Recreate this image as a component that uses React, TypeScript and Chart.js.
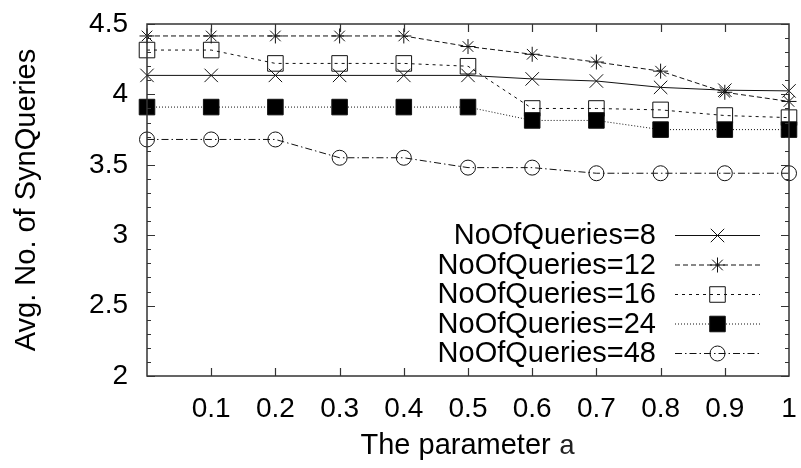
import React, { useEffect, useRef } from 'react';
import { Chart, registerables } from 'chart.js';
import { drawPoint } from 'chart.js/helpers';

Chart.register(...registerables);

const xValues = [0, 0.1, 0.2, 0.3, 0.4, 0.5, 0.6, 0.7, 0.8, 0.9, 1];
const seriesLabels = ['NoOfQueries=8', 'NoOfQueries=12', 'NoOfQueries=16', 'NoOfQueries=24', 'NoOfQueries=48'];
const q8 = [4.135, 4.135, 4.135, 4.135, 4.135, 4.135, 4.11, 4.095, 4.05, 4.03, 4.025];
const q12 = [4.415, 4.415, 4.415, 4.415, 4.415, 4.34, 4.285, 4.23, 4.165, 4.015, 3.95];
const q16 = [4.315, 4.315, 4.22, 4.22, 4.22, 4.2, 3.9, 3.9, 3.89, 3.85, 3.835];
const q24 = [3.91, 3.91, 3.91, 3.91, 3.91, 3.91, 3.815, 3.815, 3.75, 3.75, 3.75];
const q48 = [3.68, 3.68, 3.68, 3.55, 3.55, 3.48, 3.48, 3.44, 3.44, 3.44, 3.44];
const xMajorTicks = [0.1, 0.2, 0.3, 0.4, 0.5, 0.6, 0.7, 0.8, 0.9];
const yMajorTicks = [2, 2.5, 3, 3.5, 4, 4.5];
const yMinorTicks = [2.1, 2.2, 2.3, 2.4, 2.6, 2.7, 2.8, 2.9, 3.1, 3.2, 3.3, 3.4, 3.6, 3.7, 3.8, 3.9, 4.1, 4.2, 4.3, 4.4];
const xTitle = 'The parameter ';
const xTitleVar = 'a';
const yTitle = 'Avg. No. of SynQueries';

const FONT = '"Liberation Sans", Arial, Helvetica, sans-serif';
const MONO = '"Liberation Mono", "DejaVu Sans Mono", monospace';
const INK = '#111';

const seriesValues = [q8, q12, q16, q24, q48];
const styles = [
  { dash: [], point: 'crossRot', radius: 9.5, fill: 'rgba(0,0,0,0)' },
  { dash: [5, 3], point: 'star', radius: 7.5, fill: 'rgba(0,0,0,0)' },
  { dash: [3, 4], point: 'rect', radius: 11, fill: 'rgba(0,0,0,0)' },
  { dash: [1, 2], point: 'rect', radius: 11, fill: '#000' },
  { dash: [7, 3, 1.5, 3], point: 'circle', radius: 7.5, fill: 'rgba(0,0,0,0)' },
];

const framePlugin = {
  id: 'frame',
  afterDatasetsDraw(chart: any) {
    const { ctx, chartArea: a, scales } = chart;
    const x = scales.x;
    const y = scales.y;
    ctx.save();
    ctx.strokeStyle = '#333';
    ctx.lineWidth = 1.5;
    ctx.setLineDash([]);
    ctx.strokeRect(a.left, a.top, a.right - a.left, a.bottom - a.top);
    ctx.lineWidth = 1.2;
    ctx.beginPath();
    for (const v of xMajorTicks) {
      const px = Math.round(x.getPixelForValue(v)) + 0.5;
      ctx.moveTo(px, a.bottom); ctx.lineTo(px, a.bottom - 8);
      ctx.moveTo(px, a.top); ctx.lineTo(px, a.top + 8);
    }
    for (const v of yMajorTicks) {
      const py = Math.round(y.getPixelForValue(v)) + 0.5;
      ctx.moveTo(a.left, py); ctx.lineTo(a.left + 8, py);
      ctx.moveTo(a.right, py); ctx.lineTo(a.right - 8, py);
    }
    for (const v of yMinorTicks) {
      const py = Math.round(y.getPixelForValue(v)) + 0.5;
      ctx.moveTo(a.left, py); ctx.lineTo(a.left + 4, py);
      ctx.moveTo(a.right, py); ctx.lineTo(a.right - 4, py);
    }
    ctx.stroke();
    ctx.restore();
  },
  afterDraw(chart: any) {
    const { ctx, chartArea: a } = chart;
    ctx.save();
    // legend
    const textRight = 656;
    const lineL = 675;
    const lineR = 760;
    const markX = 717.5;
    const rowY = [235, 264.5, 294, 323.5, 353];
    ctx.font = `29px ${FONT}`;
    ctx.fillStyle = '#000';
    ctx.textAlign = 'right';
    ctx.textBaseline = 'middle';
    chart.data.datasets.forEach((ds: any, i: number) => {
      const yy = rowY[i];
      ctx.fillStyle = '#000';
      ctx.fillText(seriesLabels[i], textRight, yy + 1);
      ctx.strokeStyle = INK;
      ctx.lineWidth = 1;
      ctx.setLineDash(styles[i].dash);
      ctx.beginPath();
      ctx.moveTo(lineL, yy + 0.5);
      ctx.lineTo(lineR, yy + 0.5);
      ctx.stroke();
      ctx.setLineDash([]);
      ctx.fillStyle = styles[i].fill;
      drawPoint(ctx, { pointStyle: styles[i].point, radius: styles[i].radius, rotation: 0, borderWidth: 1 }, markX, yy + 0.5);
    });
    // x title
    ctx.fillStyle = '#000';
    ctx.textBaseline = 'alphabetic';
    ctx.font = `29px ${FONT}`;
    const w1 = ctx.measureText(xTitle).width;
    ctx.font = `28px ${MONO}`;
    const w2 = ctx.measureText(xTitleVar).width;
    const cx = (a.left + a.right) / 2;
    const start = cx - (w1 + w2) / 2;
    ctx.textAlign = 'left';
    ctx.font = `29px ${FONT}`;
    ctx.fillText(xTitle, start, 454);
    ctx.font = `28px ${MONO}`;
    ctx.fillStyle = '#222';
    ctx.fillText(xTitleVar, start + w1, 454);
    // y title
    ctx.fillStyle = '#000';
    ctx.translate(35, (a.top + a.bottom) / 2);
    ctx.rotate(-Math.PI / 2);
    ctx.textAlign = 'center';
    ctx.textBaseline = 'alphabetic';
    ctx.font = `29px ${FONT}`;
    ctx.fillText(yTitle, 0, 0);
    ctx.restore();
  },
};

export default function App() {
  const ref = useRef<HTMLCanvasElement | null>(null);
  useEffect(() => {
    if (!ref.current) return;
    const chart = new Chart(ref.current, {
      type: 'line',
      data: {
        labels: xValues,
        datasets: seriesValues.map((vals, i) => ({
          label: seriesLabels[i],
          data: vals.map((v, j) => ({ x: xValues[j], y: v })),
          borderColor: INK,
          borderWidth: 1,
          borderDash: styles[i].dash,
          pointStyle: styles[i].point as any,
          pointRadius: styles[i].radius,
          pointBorderWidth: 1,
          pointBorderColor: INK,
          pointBackgroundColor: styles[i].fill,
          backgroundColor: styles[i].fill,
          fill: false,
          tension: 0,
          clip: false as any,
          order: 4 - i,
        })),
      },
      options: {
        responsive: false,
        animation: false,
        layout: { padding: { left: 0, right: 5, top: 24, bottom: 0 } },
        plugins: { legend: { display: false }, tooltip: { enabled: false } },
        scales: {
          x: {
            type: 'linear',
            min: 0,
            max: 1,
            grid: { display: false, drawTicks: false },
            border: { display: false },
            ticks: {
              stepSize: 0.1,
              padding: 16,
              color: '#000',
              font: { family: FONT, size: 28 },
              maxRotation: 0,
              autoSkip: false,
              callback: (v: any) => (Math.abs(v) < 1e-9 ? '' : String(Math.round(v * 10) / 10)),
            },
            afterFit: (s: any) => { s.height = 92; s.paddingLeft = 0; s.paddingRight = 0; },
          },
          y: {
            type: 'linear',
            min: 2,
            max: 4.5,
            grid: { display: false, drawTicks: false },
            border: { display: false },
            ticks: {
              stepSize: 0.5,
              padding: 19,
              color: '#000',
              font: { family: FONT, size: 28 },
              callback: (v: any) => String(Math.round(v * 10) / 10),
            },
            afterFit: (s: any) => { s.width = 147; s.paddingTop = 0; s.paddingBottom = 0; },
          },
        },
      },
      plugins: [framePlugin],
    });
    return () => chart.destroy();
  }, []);
  return (
    <div style={{ position: 'fixed', left: 0, top: 0, width: 801, height: 468, background: '#fff' }}>
      <canvas ref={ref} width={801} height={468} />
    </div>
  );
}
